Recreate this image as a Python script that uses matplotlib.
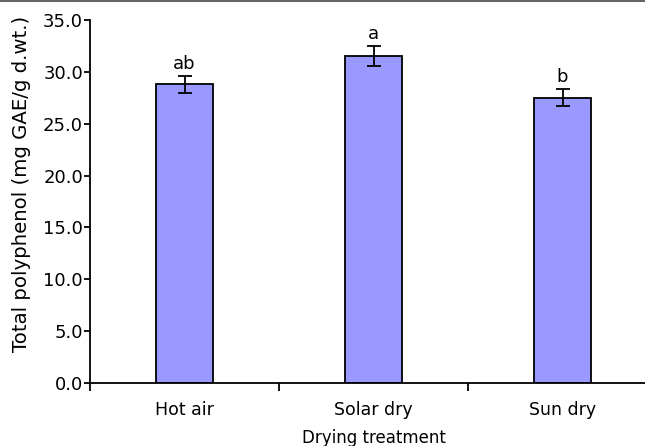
import matplotlib
matplotlib.use("Agg")
import matplotlib.pyplot as plt
from matplotlib.lines import Line2D

treatments = ["Hot air", "Solar dry", "Sun dry"]
polyphenol = [28.8, 31.5, 27.5]
sd = [0.8, 0.95, 0.8]
letters = ["ab", "a", "b"]

plt.rcParams["font.family"] = ["DejaVu Sans"]
fs = 13

fig = plt.figure(figsize=(6.45, 4.46), dpi=100)
ax = fig.add_axes([90 / 645, 1 - 383 / 446, 567 / 645, 363 / 446])

x = range(len(treatments))
ax.bar(x, polyphenol, width=0.3, color="#9999ff", edgecolor="black", linewidth=1.3,
       zorder=2)
ax.errorbar(x, polyphenol, yerr=sd, fmt="none", ecolor="black", elinewidth=1.3,
            capsize=5, capthick=1.3, zorder=3)
for xi, v, e, lab in zip(x, polyphenol, sd, letters):
    ax.text(xi, v + e + 0.3, lab, ha="center", va="bottom", fontsize=fs)

ax.set_xlim(-0.5, 2.5)
ax.set_ylim(0, 35)
ax.set_yticks([0, 5, 10, 15, 20, 25, 30, 35])
ax.set_yticklabels([f"{t:.1f}" for t in [0, 5, 10, 15, 20, 25, 30, 35]])
ax.set_xticks(list(x))
ax.set_xticklabels(treatments)
ax.set_xticks([-0.5, 0.5, 1.5, 2.5], minor=True)
ax.tick_params(axis="x", which="major", length=0, pad=13, labelsize=12.5)
ax.tick_params(axis="x", which="minor", length=6, width=1.3)
ax.tick_params(axis="y", length=4, width=1.3, pad=1, labelsize=fs)

for side in ("top", "right"):
    ax.spines[side].set_visible(False)
for side in ("left", "bottom"):
    ax.spines[side].set_linewidth(1.3)

fig.text(21.5 / 645, 1 - 184 / 446, "Total polyphenol (mg GAE/g d.wt.)",
         rotation=90, ha="center", va="center", fontsize=14.2)
ax.set_xlabel("Drying treatment", fontsize=12, labelpad=7)

# thin grey rule along the top edge
fig.add_artist(Line2D([0, 1], [0.998, 0.998], color="#666666", linewidth=1.5,
                      transform=fig.transFigure))

fig.savefig("out.png", dpi=100)
